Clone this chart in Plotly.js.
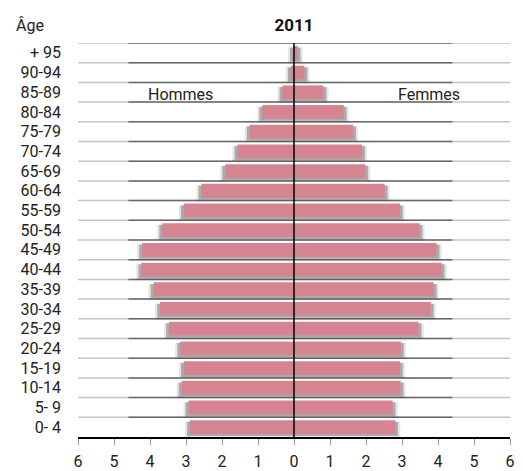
<!DOCTYPE html>
<html>
<head>
<meta charset="utf-8">
<script src="https://cdn.plot.ly/plotly-3.0.1.min.js"></script>
<style>html,body{margin:0;padding:0;background:#fff;}#chart{width:523px;height:471px;}</style>
</head>
<body>
<div id="chart"></div>
<script>
// Age groups, bottom to top
const ageGroups = ["0- 4","5- 9","10-14","15-19","20-24","25-29","30-34","35-39","40-44","45-49","50-54","55-59","60-64","65-69","70-74","75-79","80-84","85-89","90-94","+ 95"];
// Percent of population (2011)
const hommes = [2.89,2.93,3.12,3.06,3.16,3.47,3.72,3.90,4.24,4.22,3.66,3.06,2.57,1.91,1.57,1.23,0.88,0.32,0.09,0.03];
const femmes = [2.81,2.74,2.96,2.94,2.97,3.46,3.80,3.88,4.10,3.96,3.49,2.94,2.52,1.98,1.89,1.64,1.38,0.82,0.29,0.10];
const xTicks = [-6,-5,-4,-3,-2,-1,0,1,2,3,4,5,6];

const idx = ageGroups.map((_, i) => i);
const barColor = "#d58591";

function shadow(ext, off, w, col) {
  return [
    {type:"bar", orientation:"h", y: idx, x: hommes.map(v => -(v + ext)), offset: -w/2 - off, width: w,
     marker:{color: col, line:{width:0}}, hoverinfo:"skip", showlegend:false},
    {type:"bar", orientation:"h", y: idx, x: femmes.map(v => v + ext), offset: -w/2 - off, width: w,
     marker:{color: col, line:{width:0}}, hoverinfo:"skip", showlegend:false}
  ];
}

const traces = [
  ...shadow(0.14, 0.13, 0.80, "rgba(0,0,0,0.10)"),
  ...shadow(0.08, 0.09, 0.72, "rgba(0,0,0,0.25)"),
  {type:"bar", orientation:"h", name:"Hommes", y: idx, x: hommes.map(v => -v), offset:-0.35, width:0.7,
   marker:{color: barColor, line:{width:0}}, showlegend:false},
  {type:"bar", orientation:"h", name:"Femmes", y: idx, x: femmes, offset:-0.35, width:0.7,
   marker:{color: barColor, line:{width:0}}, showlegend:false}
];

const shapes = [];
for (let k = 0; k < ageGroups.length; k++) {
  const yy = k + 0.5;
  shapes.push({type:"line", layer:"below", xref:"x", yref:"y", x0:-6, x1:6, y0:yy, y1:yy, line:{color:"#c4c4c4", width:1.5}});
  shapes.push({type:"line", layer:"below", xref:"x", yref:"y", x0:-4.6, x1:4.4, y0:yy, y1:yy, line:{color:"#6a6a6a", width:1.5}});
}
shapes.push({type:"line", layer:"above", xref:"x", yref:"paper", x0:0, x1:0, y0:0, y1:1, line:{color:"#000", width:1.5}});

const font = "Roboto, 'Open Sans', sans-serif";
const layout = {
  width:523, height:471,
  margin:{l:78, r:13, t:43, b:34},
  paper_bgcolor:"#fff", plot_bgcolor:"#fff",
  barmode:"overlay",
  font:{family:font, color:"#222", size:15},
  title:{text:"<b>2011</b>", x:0.5, xref:"paper", y:0.947, yanchor:"middle", font:{family:font, size:17, color:"#111"}},
  xaxis:{range:[-6,6], tickvals:xTicks, ticktext:xTicks.map(v => String(Math.abs(v))),
         showgrid:false, zeroline:false, showline:true, linecolor:"#000", linewidth:1.5,
         ticks:"outside", ticklen:6, tickcolor:"#999", tickwidth:1, ticklabelstandoff:3,
         tickfont:{size:16, color:"#222"}, fixedrange:true},
  yaxis:{range:[-0.5, ageGroups.length - 0.5], tickvals:idx, ticktext:ageGroups,
         showgrid:false, zeroline:false, showline:false, ticks:"", ticklabelstandoff:16,
         tickfont:{size:16, color:"#222"}, fixedrange:true},
  shapes: shapes,
  annotations:[
    {text:"Âge", xref:"paper", yref:"paper", x:-0.148, xanchor:"left", y:1.045, yanchor:"middle", showarrow:false, font:{size:16, color:"#222"}},
    {text:"Hommes", xref:"x", yref:"y", x:-4.1, xanchor:"left", y:16.5, yanchor:"bottom", yshift:-4, showarrow:false, font:{size:16, color:"#222"}},
    {text:"Femmes", xref:"x", yref:"y", x:2.83, xanchor:"left", y:16.5, yanchor:"bottom", yshift:-4, showarrow:false, font:{size:16, color:"#222"}}
  ]
};

Plotly.newPlot("chart", traces, layout, {displayModeBar:false, staticPlot:true});
</script>
</body>
</html>
